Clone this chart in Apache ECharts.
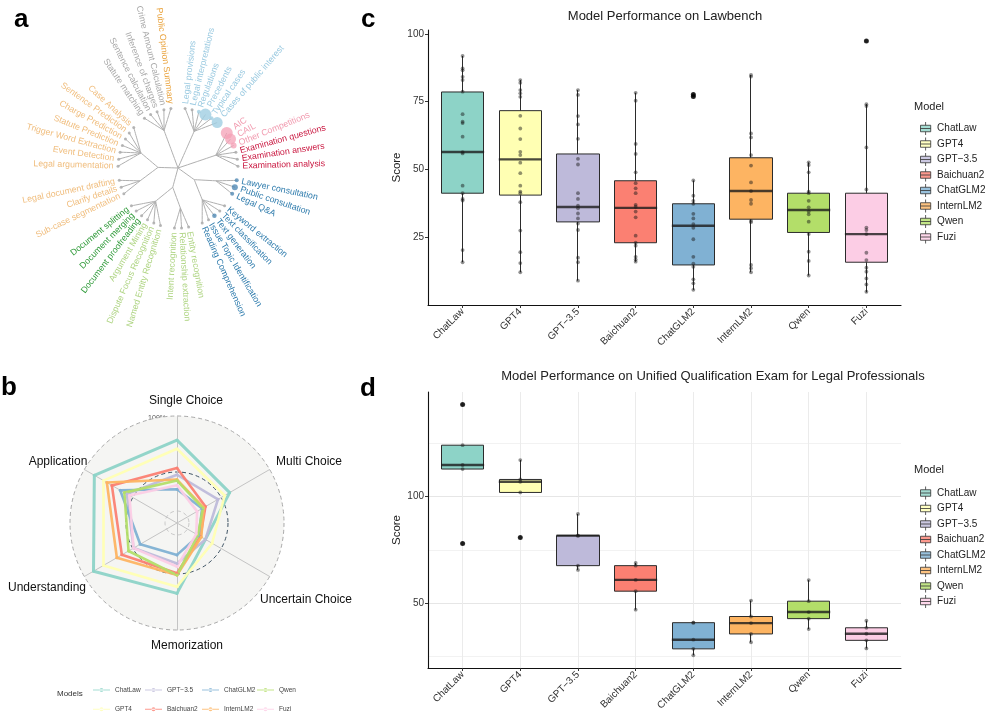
<!DOCTYPE html>
<html><head><meta charset="utf-8">
<script src="https://cdn.jsdelivr.net/npm/echarts@6.0.0/dist/echarts.min.js"></script>
<style>html,body{margin:0;padding:0;background:#fff}#main{width:985px;height:720px}</style>
</head><body><div id="main"></div>
<script>
const FONT = '"Liberation Sans", Arial, Helvetica, sans-serif';

// ---------------- panel a : task taxonomy ----------------
const examTasks = ['Examination questions', 'Examination answers', 'Examination analysis'];
const competitionTasks = ['AIC', 'CAIL', 'Other Competitions'];
const knowledgeTasks = ['Legal provisions', 'Legal interpretations', 'Regulations', 'Precedents', 'Typical cases', 'Cases of public interest'];
const consultationTasks = ['Lawyer consultation', 'Public consultation', 'Legal Q&A'];
const textTasks = ['Keyword extraction', 'Text classification', 'Text generation', 'Issue Topic Identification', 'Reading Comprehension'];
const recognitionTasks = ['Entity recognition', 'Relationship extraction', 'Intent recognition'];
const miningTasks = ['Named Entity Recognition', 'Dispute Focus Recognition', 'Argument Mining'];
const documentTasks = ['Document proofreading', 'Document merging', 'Document splitting'];
const draftingTasks = ['Sub-case segmentation', 'Clarify details', 'Legal document drafting'];
const predictionTasks = ['Legal argumentation', 'Event Detection', 'Trigger Word Extraction', 'Statute Prediction', 'Charge Prediction', 'Sentence Prediction', 'Case Analysis'];
const calculationTasks = ['Statute matching', 'Sentence calculation', 'Inference of charges', 'Crime Amount Calculation'];
const summaryTasks = ['Public Opinion Summary'];

// branches of the tree (each branch = list of sub-branches = lists of leaves), clockwise from the top
const treeBranches = [
  [knowledgeTasks],
  [competitionTasks.concat(examTasks)],
  [consultationTasks, textTasks],
  [recognitionTasks, miningTasks.concat(documentTasks)],
  [draftingTasks, predictionTasks],
  [calculationTasks.concat(summaryTasks)]
];

// styling of the taxonomy (kept apart from the data)
const taskClasses = [examTasks, competitionTasks, knowledgeTasks, consultationTasks.concat(textTasks),
  recognitionTasks.concat(miningTasks), documentTasks, draftingTasks.concat(predictionTasks), calculationTasks, summaryTasks];
const classLabelColors = ['#c9163f', 'rgba(238,135,160,0.85)', 'rgba(135,192,218,0.85)', '#2f7cad',
  'rgba(160,204,108,0.85)', '#2e9a38', 'rgba(236,172,92,0.8)', 'rgba(145,145,145,0.8)', '#e9a23b'];
const classDotColors = ['rgba(200,60,90,0.6)', 'rgba(244,160,182,0.75)', 'rgba(160,206,226,0.8)', 'rgba(70,130,175,0.75)',
  'rgba(190,220,150,0.8)', 'rgba(80,160,80,0.7)', 'rgba(240,190,120,0.7)', 'rgba(175,175,175,0.8)', 'rgba(235,170,70,0.8)'];
const leafDotSize = { 'Precedents': 12, 'Cases of public interest': 11, 'AIC': 12, 'CAIL': 11, 'Other Competitions': 6,
  'Public consultation': 6, 'Text generation': 4.5, 'Lawyer consultation': 4, 'Legal Q&A': 4, 'Regulations': 4, 'Typical cases': 4 };

function buildTree() {
  const labelColor = {}, dotColor = {};
  taskClasses.forEach((list, ci) => list.forEach(n => { labelColor[n] = classLabelColors[ci]; dotColor[n] = classDotColors[ci]; }));
  return {
    name: 'root',
    children: treeBranches.map((branch, bi) => ({
      name: 'branch' + bi,
      children: branch.map((sub, si) => ({
        name: 'sub' + bi + '_' + si,
        children: sub.map(n => ({
          name: n,
          symbolSize: leafDotSize[n] || 3,
          itemStyle: { color: leafDotSize[n] ? dotColor[n] : 'rgba(170,170,170,0.85)' },
          label: { color: labelColor[n] }
        }))
      }))
    }))
  };
}

// ---------------- shared models ----------------
const models = ['ChatLaw', 'GPT4', 'GPT\u22123.5', 'Baichuan2', 'ChatGLM2', 'InternLM2', 'Qwen', 'Fuzi'];
const modelColors = ['#8dd3c7', '#ffffb3', '#bebada', '#fb8072', '#80b1d3', '#fdb462', '#b3de69', '#fccde5'];
const modelTicks = models.map((m, i) => i + 1);

// ---------------- panel b : radar (percent) ----------------
const radarAxes = ['Single Choice', 'Multi Choice', 'Uncertain Choice', 'Memorization', 'Understanding', 'Application']; // clockwise from top
const radarChatLaw = [75, 52, 23, 62, 89, 88];
const radarGPT4 = [66, 46, 31, 55, 77, 77];
const radarGPT35 = [39, 38, 23, 31, 41, 49];
const radarBaichuan2 = [46, 23, 17, 41, 55, 67];
const radarChatGLM2 = [24, 19, 15, 22, 33, 57];
const radarInternLM2 = [34, 21, 18, 43, 61, 73];
const radarQwen = [33, 20, 14, 43, 47, 52];
const radarFuzi = [28, 13, 12, 34, 41, 46];
const radarValues = [radarChatLaw, radarGPT4, radarGPT35, radarBaichuan2, radarChatGLM2, radarInternLM2, radarQwen, radarFuzi];
const radarGridLabels = ['100%', '50%', '0%'];

// ---------------- panel c : Lawbench ----------------
// [lower whisker, Q1, median, Q3, upper whisker]
const lawbenchBox = [
  [15.6, 41.1, 56.3, 78.5, 91.8],
  [11.9, 40.4, 53.6, 71.6, 82.9],
  [8.8, 30.5, 36.0, 55.6, 79.2],
  [15.8, 22.8, 35.7, 45.7, 78.2],
  [5.4, 14.6, 29.1, 37.2, 45.8],
  [11.9, 31.5, 41.9, 54.2, 84.8],
  [10.7, 26.6, 34.9, 41.1, 52.5],
  [4.5, 15.6, 26.0, 41.1, 74.0]
];
const lawbenchPoints = [
  [91.8, 87.2, 86.5, 84.1, 82.9, 78.6, 70.3, 67.5, 67.0, 62.0, 56.3, 55.8, 43.9, 41.1, 39.0, 38.4, 20.1, 15.6],
  [82.9, 81.9, 79.2, 78.0, 76.7, 69.7, 65.0, 61.1, 56.4, 55.2, 52.4, 48.5, 43.9, 41.7, 41.1, 37.8, 27.3, 19.3, 15.3, 11.9],
  [79.2, 77.4, 69.6, 66.5, 61.2, 53.8, 51.7, 41.1, 39.0, 36.5, 35.5, 33.6, 31.8, 29.9, 27.5, 17.3, 15.6, 8.8],
  [78.2, 75.3, 59.3, 55.6, 48.8, 44.8, 42.9, 41.1, 36.8, 36.1, 34.3, 32.2, 25.4, 22.8, 21.7, 17.6, 16.6, 15.8],
  [77.6, 76.8, 45.8, 40.2, 38.3, 37.2, 33.5, 31.8, 29.7, 28.3, 24.1, 17.6, 15.1, 13.9, 9.3, 7.8, 5.4],
  [84.8, 84.2, 63.2, 61.7, 55.2, 51.3, 45.1, 41.9, 38.6, 37.2, 30.9, 30.4, 14.6, 13.4, 11.9],
  [52.5, 51.5, 48.8, 41.7, 41.1, 38.3, 35.9, 34.3, 33.3, 30.6, 26.0, 19.5, 16.1, 10.7],
  [97.3, 74.0, 73.3, 58.0, 42.5, 28.4, 27.5, 26.0, 19.1, 16.4, 13.6, 12.1, 9.6, 7.4, 4.7]
];
const lawbenchOutliers = [[], [], [], [], [77.6, 76.8], [], [], [97.3]];
const lawbenchTicks = [25, 50, 75, 100];

// ---------------- panel d : Unified Qualification Exam ----------------
const examBox = [
  [113.0, 113.0, 114.9, 124.2, 124.2],
  [102.0, 102.0, 107.0, 108.1, 117.2],
  [65.6, 67.6, 81.7, 81.7, 91.9],
  [46.9, 55.6, 60.9, 67.6, 68.9],
  [25.5, 28.5, 32.8, 40.8, 40.8],
  [31.6, 35.5, 40.6, 43.7, 51.2],
  [37.8, 42.7, 45.8, 50.9, 60.8],
  [28.7, 32.5, 35.6, 38.4, 41.7]
];
const examPoints = [
  [143.3, 124.2, 114.9, 113.0, 78.0],
  [117.2, 108.1, 107.0, 102.0, 80.8],
  [91.9, 81.7, 81.7, 67.6, 65.6],
  [68.9, 67.6, 60.9, 55.6, 46.9],
  [40.8, 40.8, 32.8, 28.5, 25.5],
  [51.2, 43.7, 40.6, 35.5, 31.6],
  [60.8, 50.9, 45.8, 42.7, 37.8],
  [41.7, 38.4, 35.6, 32.5, 28.7]
];
const examOutliers = [[143.3, 78.0], [80.8], [], [], [], [], [], []];
const examMajorTicks = [50, 100];
const examMinorTicks = [25, 75, 125];

// ---------------- build ----------------
const chart = echarts.init(document.getElementById('main'), null, { renderer: 'canvas' });

const radarCenter = [177, 523];
const ccwOrder = [0, 5, 4, 3, 2, 1]; // ECharts radar runs counter-clockwise
const radarIndicatorsDecor = ccwOrder.map(k => ({ name: radarAxes[k], min: 0, max: 1 }));
const radarIndicatorsData = ccwOrder.map(k => ({ name: radarAxes[k], min: -11.1, max: 100 }));

function decorRadar(radius, lineColor, withArea, withAxis) {
  return {
    center: radarCenter, radius: radius, shape: 'circle', splitNumber: 1, startAngle: 90,
    indicator: radarIndicatorsDecor,
    axisName: { show: false },
    axisLine: { show: withAxis, lineStyle: { color: '#c4c4c4', width: 1 } },
    axisTick: { show: false }, axisLabel: { show: false },
    splitLine: { show: true, lineStyle: { color: lineColor, width: 1, type: [4, 3] } },
    splitArea: { show: withArea, areaStyle: { color: ['#f5f5f3'] } },
    silent: true
  };
}

function axisCommon() {
  return {
    axisLine: { show: true, onZero: false, lineStyle: { color: '#111', width: 1.1 } },
    axisTick: { show: true, length: 3, lineStyle: { color: '#333' } },
    axisLabel: { fontSize: 10, color: '#333', fontFamily: FONT }
  };
}

function xCat(gridIndex, withGrid) {
  const a = axisCommon();
  return {
    gridIndex, type: 'value', min: 0.4, max: 8.6,
    axisLine: a.axisLine,
    axisTick: Object.assign({}, a.axisTick, { customValues: modelTicks }),
    axisLabel: Object.assign({}, a.axisLabel, { customValues: modelTicks, rotate: 45, margin: 5,
      formatter: v => models[Math.round(v) - 1] || '' }),
    splitLine: { show: withGrid, lineStyle: { color: '#ebebeb', width: 1 } }
  };
}

function boxSeries(box, xi, yi) {
  return {
    type: 'candlestick', xAxisIndex: xi, yAxisIndex: yi, barWidth: 43, silent: true, z: 2,
    data: box.map((b, i) => ({
      value: [i + 1, b[1], b[3], b[0], b[4]],
      itemStyle: { color: modelColors[i], color0: modelColors[i], borderColor: '#2b2b2b', borderColor0: '#2b2b2b', borderWidth: 1 }
    }))
  };
}
function medianSeries(box, xi, yi) {
  return {
    type: 'scatter', xAxisIndex: xi, yAxisIndex: yi, symbol: 'rect', symbolSize: [43, 2.4], silent: true, z: 3,
    itemStyle: { color: '#1c1c1c' },
    data: box.map((b, i) => [i + 1, b[2]])
  };
}
function pointSeries(points, xi, yi) {
  return points.map((pts, i) => ({
    type: 'scatter', name: models[i], xAxisIndex: xi, yAxisIndex: yi, symbolSize: 3.8, silent: true, z: 4,
    itemStyle: { color: 'rgba(25,25,25,0.6)' },
    data: pts.map(v => [i + 1, v])
  }));
}
function outlierSeries(outs, xi, yi) {
  const d = [];
  outs.forEach((list, i) => list.forEach(v => d.push([i + 1, v])));
  return { type: 'scatter', xAxisIndex: xi, yAxisIndex: yi, symbolSize: 5, silent: true, z: 5, itemStyle: { color: '#000' }, data: d };
}

const boxIcon = 'path://M1,3.5 L12,3.5 L12,10.5 L1,10.5 Z M6.5,0 L6.5,3.5 M6.5,10.5 L6.5,14 M1,7 L12,7';
function boxLegend(top) {
  return {
    orient: 'vertical', left: 915, top: top, itemWidth: 13, itemHeight: 13, itemGap: 1.5, selectedMode: false,
    textStyle: { fontSize: 10, color: '#222', fontFamily: FONT },
    data: models.map((m, i) => ({ name: m, icon: boxIcon, itemStyle: { color: modelColors[i], borderColor: '#333', borderWidth: 1 } }))
  };
}
const lineIcon = 'path://M0,4.3 L22,4.3 L22,5.7 L0,5.7 Z M8.5,5 A2.5,2.5 0 1 0 13.5,5 A2.5,2.5 0 1 0 8.5,5 Z';
const radarLegendColumns = [[0, 1], [2, 3], [4, 5], [6, 7]];
const radarLegendLeft = [88, 140, 197, 252];
const radarLegends = radarLegendColumns.map((col, c) => ({
  orient: 'vertical', left: radarLegendLeft[c], top: 681.5, itemWidth: 17, itemHeight: 6, itemGap: 12.3, selectedMode: false,
  textStyle: { fontSize: 6.5, color: '#444', fontFamily: FONT },
  data: col.map(i => ({ name: models[i], icon: lineIcon, itemStyle: { color: modelColors[i], borderWidth: 0 } }))
}));

function txt(text, x, y, size, opts) {
  return Object.assign({ type: 'text', x: x, y: y, silent: true,
    style: Object.assign({ text: text, fontSize: size, fontFamily: FONT, fill: '#111', textAlign: 'center', textVerticalAlign: 'middle' }, (opts || {})) });
}

const option = {
  animation: false,
  backgroundColor: '#ffffff',
  textStyle: { fontFamily: FONT },
  radar: [
    decorRadar(107, '#a9a9a9', true, true),
    decorRadar(51, '#3d5263', false, false),
    decorRadar(12, '#c9c9c9', false, false),
    {
      center: radarCenter, radius: 107, startAngle: 90, indicator: radarIndicatorsData, splitNumber: 1,
      axisName: { show: false }, axisLine: { show: false }, axisTick: { show: false }, axisLabel: { show: false },
      splitLine: { show: false }, splitArea: { show: false }, silent: true
    }
  ],
  grid: [
    { left: 428, right: 84, top: 30, bottom: 415 },
    { left: 428, right: 84, top: 392, bottom: 52 }
  ],
  xAxis: [xCat(0, false), xCat(1, true)],
  yAxis: [
    {
      gridIndex: 0, type: 'value', min: -0.2, max: 101.4,
      name: 'Score', nameLocation: 'middle', nameGap: 25, nameTextStyle: { fontSize: 11.5, color: '#222', fontFamily: FONT },
      axisLine: axisCommon().axisLine,
      axisTick: Object.assign(axisCommon().axisTick, { customValues: lawbenchTicks }),
      axisLabel: Object.assign(axisCommon().axisLabel, { customValues: lawbenchTicks, margin: 4 }),
      splitLine: { show: false }
    },
    {
      gridIndex: 1, type: 'value', min: 19.5, max: 149.2,
      name: 'Score', nameLocation: 'middle', nameGap: 25, nameTextStyle: { fontSize: 11.5, color: '#222', fontFamily: FONT },
      axisLine: axisCommon().axisLine,
      axisTick: Object.assign(axisCommon().axisTick, { customValues: examMajorTicks }),
      axisLabel: Object.assign(axisCommon().axisLabel, { customValues: examMajorTicks, margin: 4 }),
      splitLine: { show: true, lineStyle: { color: '#e6e6e6', width: 1 } }
    },
    {
      gridIndex: 1, type: 'value', min: 19.5, max: 149.2, position: 'left',
      axisLine: { show: false }, axisTick: { show: false, customValues: examMinorTicks }, axisLabel: { show: false },
      splitLine: { show: true, lineStyle: { color: '#f2f2f2', width: 1 } }
    }
  ],
  legend: radarLegends.concat([boxLegend(116.5), boxLegend(481)]),
  series: [
    {
      type: 'tree', data: [buildTree()], layout: 'radial',
      left: 118, top: 108, width: 120, height: 120,
      symbol: 'circle', symbolSize: 0, roam: false, silent: true,
      expandAndCollapse: false, initialTreeDepth: -1,
      itemStyle: { color: 'rgba(170,170,170,0.85)', borderWidth: 0 },
      lineStyle: { color: '#b0b0b0', width: 1, curveness: 0 },
      label: { show: false },
      leaves: { label: { show: true, fontSize: 8.8, fontFamily: FONT, distance: 3 } },
      emphasis: { disabled: true }
    },
    {
      type: 'radar', radarIndex: 3, silent: true, symbol: 'circle', symbolSize: 3,
      data: radarValues.map((vals, i) => ({
        name: models[i],
        value: ccwOrder.map(k => vals[k]),
        lineStyle: { color: modelColors[i], width: i === 0 ? 3 : 2.6, opacity: 0.95 },
        itemStyle: { color: modelColors[i] }
      }))
    },
    boxSeries(lawbenchBox, 0, 0),
    medianSeries(lawbenchBox, 0, 0),
    ...pointSeries(lawbenchPoints, 0, 0),
    outlierSeries(lawbenchOutliers, 0, 0),
    boxSeries(examBox, 1, 1),
    medianSeries(examBox, 1, 1),
    ...pointSeries(examPoints, 1, 1),
    outlierSeries(examOutliers, 1, 1)
  ],
  graphic: [
    txt('a', 14, 20, 26, { fontWeight: 'bold', textAlign: 'left', fill: '#000' }),
    txt('b', 1, 388, 26, { fontWeight: 'bold', textAlign: 'left', fill: '#000' }),
    txt('c', 361, 20, 26, { fontWeight: 'bold', textAlign: 'left', fill: '#000' }),
    txt('d', 360, 389, 26, { fontWeight: 'bold', textAlign: 'left', fill: '#000' }),
    txt('Model Performance on Lawbench', 665, 16, 13, { fill: '#222' }),
    txt('Model Performance on Unified Qualification Exam for Legal Professionals', 713, 376, 13, { fill: '#222' }),
    txt('Model', 914, 107, 11, { textAlign: 'left', fill: '#222' }),
    txt('Model', 914, 470, 11, { textAlign: 'left', fill: '#222' }),
    txt('Models', 57, 694, 8, { textAlign: 'left', fill: '#333' }),
    txt(radarAxes[0], 186, 401, 12),
    txt(radarAxes[1], 309, 462, 12),
    txt(radarAxes[2], 306, 600, 12),
    txt(radarAxes[3], 187, 646, 12),
    txt(radarAxes[4], 47, 588, 12),
    txt(radarAxes[5], 58, 462, 12),
    txt(radarGridLabels[0], 166, 418, 7, { textAlign: 'right', fill: '#555' }),
    txt(radarGridLabels[1], 167, 472, 7, { textAlign: 'right', fill: '#555' }),
    txt(radarGridLabels[2], 166, 514, 7, { textAlign: 'right', fill: '#555' })
  ]
};
chart.setOption(option);
</script></body></html>
